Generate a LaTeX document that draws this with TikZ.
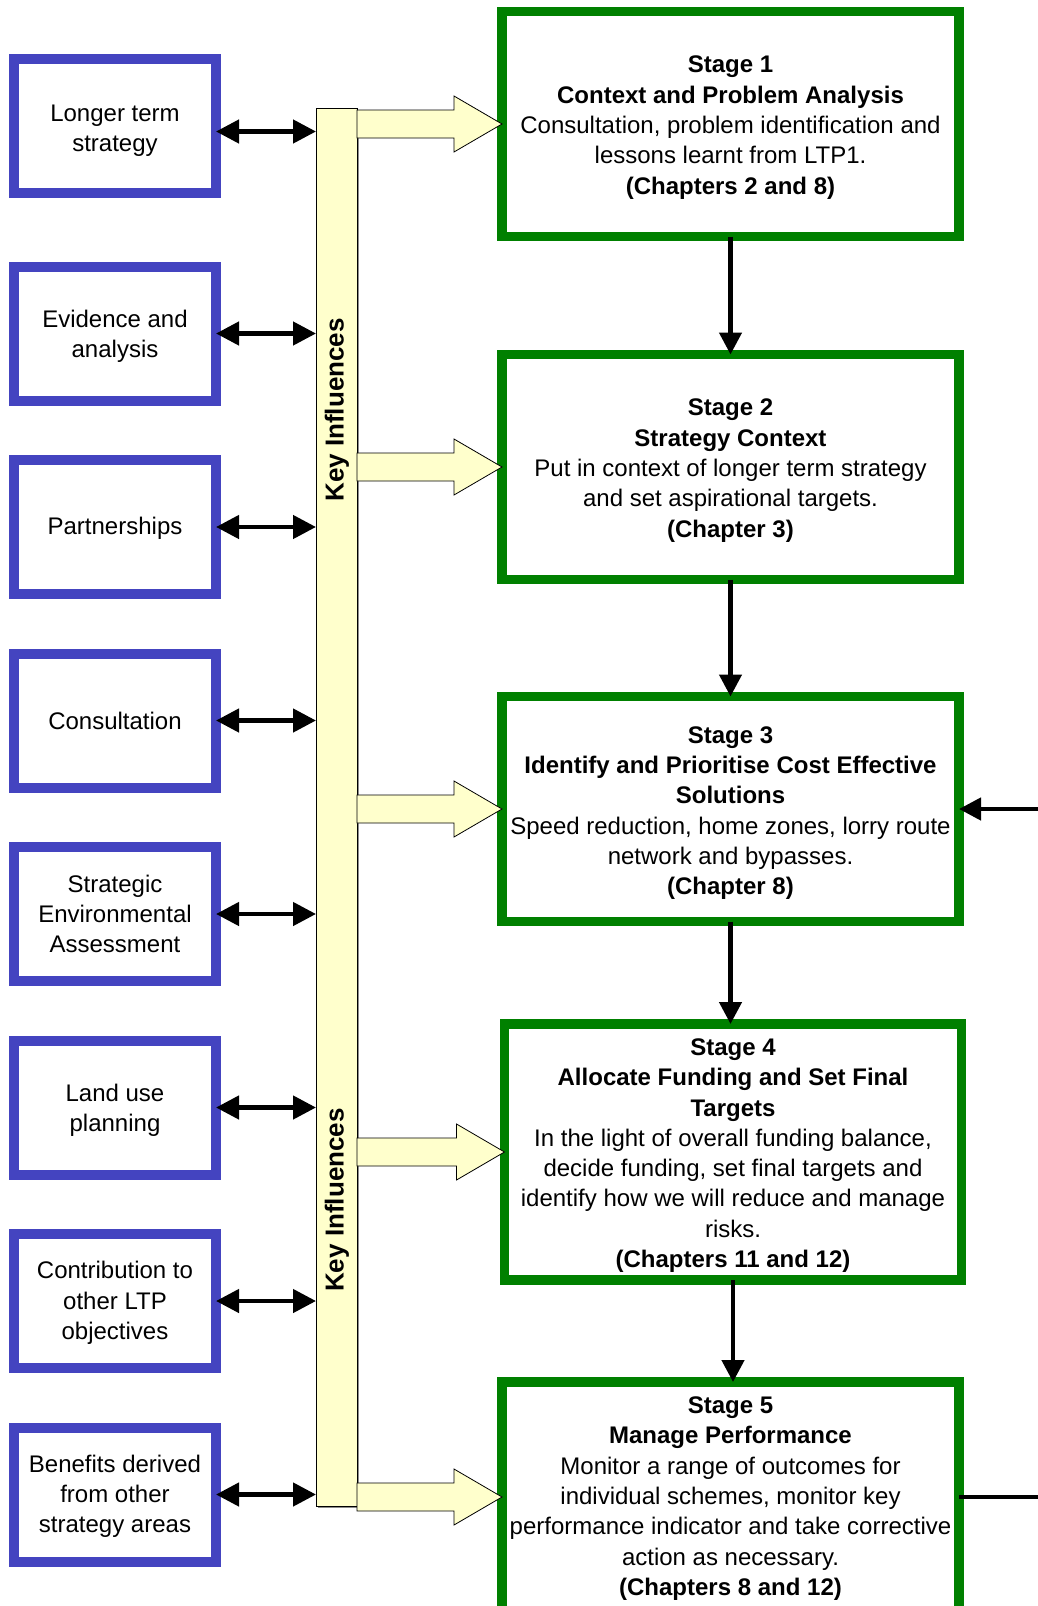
\documentclass[tikz,border=0pt]{standalone}
\usepackage{fontspec}
\setmainfont{Liberation Sans}
\usetikzlibrary{arrows.meta,positioning,calc,shadows}

\definecolor{boxblue}{RGB}{68,68,192}
\definecolor{stagegreen}{RGB}{0,128,0}
\definecolor{paleyellow}{RGB}{255,255,204}

% invisible strut to push a first line down
\newcommand{\lift}[1]{\rule{0pt}{#1}}

% broad hollow arrow from the bar into a stage box
\newcommand{\fatarrow}[2]{%
	\draw[fatfill] let \p1=(#1), \p2=(#2) in
		(\x1,\y1+14pt) -- (\x2-48pt,\y1+14pt) -- (\x2-48pt,\y1+28pt) -- (\x2,\y1)
		-- (\x2-48pt,\y1-28pt) -- (\x2-48pt,\y1-14pt) -- (\x1,\y1-14pt) -- cycle;}

\begin{document}
\begin{tikzpicture}[
				x=1pt, y=-1pt,
				every node/.style={font=\fontsize{24}{30.3}\selectfont, align=center},
				influence/.style={draw=boxblue, line width=10pt, minimum width=202pt, minimum height=134pt, inner sep=0pt, outer sep=0pt},
				stage/.style={draw=stagegreen, line width=9.5pt, minimum width=457pt, inner sep=2pt, outer sep=0pt},
				keybar/.style={draw, fill=paleyellow, line width=0.8pt, minimum width=41pt, minimum height=1398pt, inner sep=0pt, outer sep=0pt,
					drop shadow={shadow xshift=1.5pt, shadow yshift=-1.5pt, fill=black!45, opacity=1}},
				keytext/.style={rotate=90, font=\fontsize{26}{30}\selectfont\bfseries},
				fatfill/.style={draw, fill=paleyellow, line width=0.8pt},
				link/.style={line width=4.5pt, -{Triangle[length=22pt,width=22pt]}},
				twoway/.style={line width=4.5pt, {Triangle[length=23pt,width=23pt]}-{Triangle[length=23pt,width=23pt]}}
			]
			\useasboundingbox (0,0) rectangle (1037,1606);

			% influences
			\node[influence] (lts) at (115,125.5) {\lift{27pt}Longer term\\strategy};
			\node[influence, below=74pt of lts] (evid) {\lift{23pt}Evidence and\\analysis};
			\node[influence, below=59.5pt of evid] (part) {\lift{19pt}Partnerships};
			\node[influence, below=59.5pt of part] (cons) {Consultation};
			\node[influence, below=59.5pt of cons] (sea) {Strategic\\Environmental\\Assessment};
			\node[influence, below=59.5pt of sea] (land) {\lift{23pt}Land use\\planning};
			\node[influence, below=59.5pt of land] (ltp) {\lift{21pt}Contribution to\\other LTP\\objectives};
			\node[influence, below=59.5pt of ltp] (bene) {\lift{21pt}Benefits derived\\from other\\strategy areas};

			\node[keybar] (bar) at (336.5,807) {};
			\node[keytext] (key1) at (337,410) {Key Influences};
			\node[keytext] (key2) at (337,1200) {Key Influences};

			% stages
			\node[stage, minimum height=225pt] (s1) at (730.5,124) {\lift{24pt}\textbf{Stage 1}\\\textbf{Context and Problem Analysis}\\Consultation, problem identification and\\lessons learnt from LTP1.\\\textbf{(Chapters 2 and 8)}};
			\node[stage, minimum height=225pt] (s2) at (730.5,467) {\lift{24pt}\textbf{Stage 2}\\\textbf{Strategy Context}\\Put in context of longer term strategy\\and set aspirational targets.\\\textbf{(Chapter 3)}};
			\node[stage, minimum height=225pt] (s3) at (730.5,809) {\lift{25pt}\textbf{Stage 3}\\\textbf{Identify and Prioritise Cost Effective}\\\textbf{Solutions}\\Speed reduction, home zones, lorry route\\network and bypasses.\\\textbf{(Chapter 8)}};
			\node[stage, minimum height=256pt] (s4) at (733,1152) {\lift{24pt}\textbf{Stage 4}\\\textbf{Allocate Funding and Set Final}\\\textbf{Targets}\\In the light of overall funding balance,\\decide funding, set final targets and\\identify how we will reduce and manage\\risks.\\\textbf{(Chapters 11 and 12)}};
			\node[stage, minimum height=230pt] (s5) at (730.5,1497) {\lift{20pt}\textbf{Stage 5}\\\textbf{Manage Performance}\\Monitor a range of outcomes for\\individual schemes, monitor key\\performance indicator and take corrective\\action as necessary.\\\textbf{(Chapters 8 and 12)}};

			% connectors
			\draw[twoway] ([yshift=-6pt]lts.east) -- ([yshift=-6pt]lts.east -| bar.west);
			\foreach \b in {evid,part,cons,sea,land,ltp,bene}
				\draw[twoway] (\b.east) -- (\b.east -| bar.west);
			\foreach \s in {s1,s2,s3,s4,s5}
				\fatarrow{bar.east |- \s.west}{\s.west};
			\draw[link] (s1.south) -- (s2.north);
			\draw[link] (s2.south) -- (s3.north);
			\draw[link] (s3.south) -- (s3.south |- s4.north);
			\draw[link] (s4.south) -- (s4.south |- s5.north);
			\draw[link] (s5.east) -- ++(90pt,0) |- (s3.east);
		\end{tikzpicture}
\end{document}
